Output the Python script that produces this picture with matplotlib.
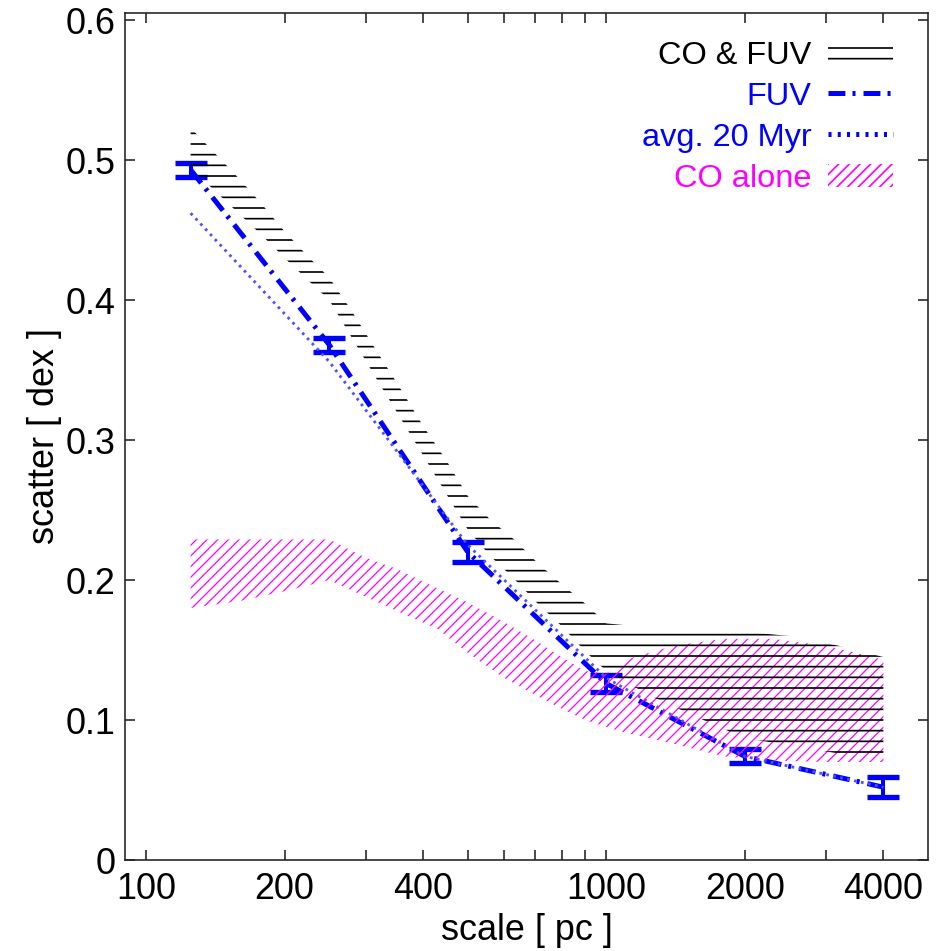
import matplotlib
matplotlib.use("Agg")
import matplotlib.pyplot as plt
from matplotlib.lines import Line2D
from matplotlib.ticker import FixedLocator, NullFormatter, ScalarFormatter

# FUV scatter with error bars
scale = [125, 250, 500, 1000, 2000, 4000]
fuv = [0.493, 0.368, 0.220, 0.126, 0.074, 0.052]
fuv_err = [0.005, 0.005, 0.007, 0.006, 0.005, 0.007]

# average over 20 Myr
avg20 = [0.462, 0.356, 0.225, 0.130, 0.074, 0.052]

# CO & FUV band
band_x = [125, 140, 160, 180, 200, 225, 250, 280, 315, 355, 400, 450, 500,
          560, 630, 710, 800, 900, 1000, 1250, 1600, 2000, 2500, 3200, 4000]
band_lo = [0.494, 0.479, 0.461, 0.445, 0.430, 0.414, 0.400, 0.373, 0.345, 0.317,
           0.289, 0.261, 0.236, 0.217, 0.201, 0.183, 0.167, 0.149, 0.135, 0.117,
           0.101, 0.087, 0.082, 0.076, 0.072]
band_hi = [0.523, 0.506, 0.486, 0.467, 0.449, 0.431, 0.416, 0.392, 0.365, 0.338,
           0.310, 0.285, 0.260, 0.243, 0.229, 0.212, 0.197, 0.183, 0.169, 0.166,
           0.164, 0.163, 0.160, 0.153, 0.145]

# CO alone band
co_x = [125, 160, 200, 250, 300, 350, 430, 500, 600, 700, 800, 900, 1000,
        1100, 1400, 1800, 2300, 3000, 3500, 4000]
co_lo = [0.180, 0.185, 0.192, 0.200, 0.188, 0.178, 0.165, 0.148, 0.130, 0.118,
         0.108, 0.100, 0.095, 0.091, 0.083, 0.074, 0.071, 0.070, 0.070, 0.070]
co_hi = [0.229, 0.229, 0.229, 0.229, 0.216, 0.208, 0.194, 0.184, 0.170, 0.157,
         0.145, 0.135, 0.133, 0.143, 0.153, 0.158, 0.158, 0.153, 0.148, 0.143]

major_ticks = [100, 200, 400, 1000, 2000, 4000]
minor_ticks = [300, 500, 600, 700, 800, 900, 3000]
y_ticks = [0, 0.1, 0.2, 0.3, 0.4, 0.5, 0.6]

DPI = 64
plt.rcParams['font.family'] = ['Liberation Sans', 'DejaVu Sans']
plt.rcParams['lines.scale_dashes'] = False
plt.rcParams['hatch.linewidth'] = 1.9

fig = plt.figure(figsize=(945 / DPI, 951 / DPI), dpi=DPI)
ax = fig.add_axes([125 / 945, 91 / 951, 803 / 945, 847 / 951])

ax.errorbar(scale, fuv, yerr=fuv_err, fmt='none', ecolor='#0000ff',
            elinewidth=4.5, capsize=18, capthick=6, zorder=2)
fuv_line, = ax.plot(scale, fuv, color='#0000ff', lw=5.6,
                    dashes=(19, 8, 3.4, 9), zorder=2)
ax.plot(scale, avg20, color='#5050ff', lw=3.2, dashes=(3, 5), zorder=2)

with plt.rc_context({'hatch.linewidth': 1.4}):
    co_band = ax.fill_between(co_x, co_lo, co_hi, facecolor='none',
                              edgecolor='#ff00ff', hatch='//', linewidth=0,
                              zorder=3)
both_band = ax.fill_between(band_x, band_lo, band_hi, facecolor='none',
                            edgecolor='black', hatch='-', linewidth=0, zorder=4)

avg_proxy = Line2D([], [], color='#0000ff', lw=5.6, dashes=(3.4, 7))

leg = ax.legend([both_band, fuv_line, avg_proxy, co_band],
                ['CO & FUV', 'FUV', 'avg. 20 Myr', 'CO alone'],
                labelcolor=['black', '#0000ff', '#0000ff', '#ff00ff'],
                loc='upper right', bbox_to_anchor=(0.956, 0.967),
                markerfirst=False, frameon=False, fontsize=36.5,
                handlelength=2.0, handleheight=0.75, handletextpad=0.5,
                labelspacing=0.33, borderpad=0, borderaxespad=0)

ax.set_xscale('log')
ax.set_xlim(90, 5000)
ax.set_ylim(0, 0.605)
ax.xaxis.set_major_locator(FixedLocator(major_ticks))
ax.xaxis.set_minor_locator(FixedLocator(minor_ticks))
ax.xaxis.set_major_formatter(ScalarFormatter())
ax.xaxis.set_minor_formatter(NullFormatter())
ax.set_yticks(y_ticks)
ax.set_yticklabels(['0', '0.1', '0.2', '0.3', '0.4', '0.5', '0.6'])

ax.tick_params(which='both', direction='in', top=True, right=True,
               length=11, width=1.8, color='#222222', labelsize=40.5)
ax.tick_params(axis='x', pad=14)
ax.tick_params(axis='y', pad=11)
for sp in ax.spines.values():
    sp.set_linewidth(1.8)
    sp.set_color('#222222')

ax.set_xlabel('scale [ pc ]', fontsize=40.5, labelpad=6)
ax.set_ylabel('scatter [ dex ]', fontsize=40.5, labelpad=4)

fig.savefig('out.png', dpi=DPI)
